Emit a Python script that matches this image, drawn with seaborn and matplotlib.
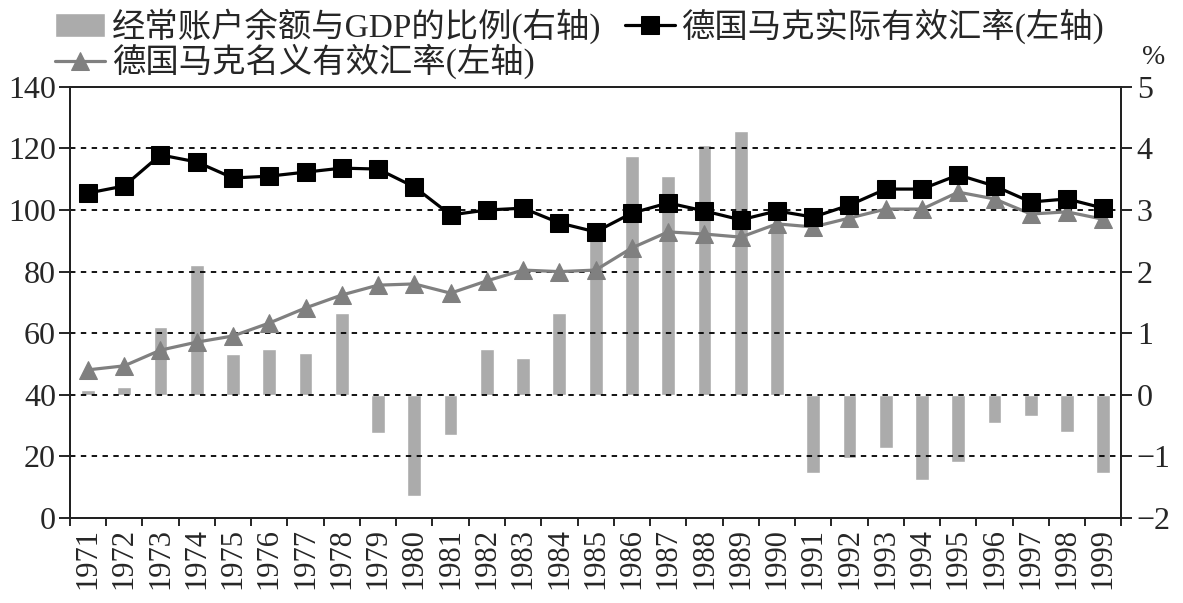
import numpy as np
import pandas as pd
import matplotlib
matplotlib.use("Agg")
import matplotlib.pyplot as plt
import seaborn as sns
from matplotlib.ticker import FixedLocator

years = [str(y) for y in range(1971, 2000)]
# 经常账户余额与GDP的比例 (%), 右轴
current_account = [0.07, 0.12, 1.1, 2.1, 0.67, 0.75, 0.68, 1.32, -0.62, -1.65,
                   -0.65, 0.75, 0.6, 1.32, 2.6, 3.87, 3.55, 4.05, 4.28, 2.75,
                   -1.27, -1.02, -0.87, -1.38, -1.09, -0.46, -0.35, -0.61, -1.27]
# 德国马克实际有效汇率, 左轴
real_rate = [105.5, 107.8, 117.9, 115.6, 110.4, 111.0, 112.3, 113.6, 113.3, 107.5,
             98.4, 100.0, 100.6, 95.8, 92.9, 99.0, 102.3, 99.7, 96.8, 99.7,
             97.7, 101.6, 106.8, 106.8, 111.4, 107.8, 102.6, 103.6, 100.6]
# 德国马克名义有效汇率, 左轴
nominal_rate = [48.1, 49.4, 54.5, 57.1, 59.1, 63.3, 68.2, 72.4, 75.6, 76.0,
                73.0, 77.0, 80.5, 80.0, 80.5, 87.7, 92.9, 92.2, 91.2, 95.5,
                94.5, 97.4, 100.3, 100.3, 105.8, 103.6, 98.7, 99.4, 97.0]

label_bar = "经常账户余额与GDP的比例(右轴)"
label_real = "德国马克实际有效汇率(左轴)"
label_nom = "德国马克名义有效汇率(左轴)"

df = pd.DataFrame({"year": years, "ca": current_account,
                   "real": real_rate, "nominal": nominal_rate})

sns.set_theme(style="white")
plt.rcParams["font.family"] = ["Liberation Serif", "Noto Sans CJK SC"]
plt.rcParams["axes.unicode_minus"] = True

fig = plt.figure(figsize=(11.83, 6.03), dpi=100)
ax = fig.add_axes([0.059, 0.141, 0.889, 0.715])
ax2 = ax.twinx()

# bars on right axis
sns.barplot(data=df, x="year", y="ca", color="#ababab", saturation=1,
            width=0.38, ax=ax2, label=label_bar)
ax2.set_ylim(-2, 5)
ax2.set_ylabel("")

# lines on left axis
sns.lineplot(data=df, x="year", y="nominal", color="#808080", marker="^",
             markersize=13, markeredgecolor="#808080", linewidth=2.3,
             ax=ax, label=label_nom)
sns.lineplot(data=df, x="year", y="real", color="black", marker="s",
             markersize=13, markeredgecolor="black", linewidth=2.3,
             ax=ax, label=label_real)
ax.set_ylim(0, 140)
ax.set_xlim(-0.5, len(years) - 0.5)
ax.set_xlabel("")
ax.set_ylabel("")
ax.set_zorder(ax2.get_zorder() + 1)
ax.patch.set_visible(False)

ax.set_yticks(range(0, 141, 20))
ax2.set_yticks(range(-2, 6))
for t in [20, 40, 60, 80, 100, 120]:
    ax.axhline(t, color="black", linestyle=(0, (3, 3)), linewidth=1.3, zorder=0.5)

ax.set_xticks(range(len(years)))
ax.set_xticklabels(years, rotation=90)
ax.xaxis.set_minor_locator(FixedLocator(np.arange(-0.5, len(years), 1)))
ax.tick_params(axis="x", which="major", length=0, labelsize=22, pad=7)
ax.tick_params(axis="x", which="minor", length=6, width=1.2, direction="out",
               bottom=True, color="black")
ax.tick_params(axis="y", length=8, width=1.2, direction="out", left=True,
               labelsize=23, color="black", pad=2)
ax2.tick_params(axis="y", length=8, width=1.2, direction="out", right=True,
                labelsize=23, color="black", pad=3)

for a in (ax, ax2):
    for s in a.spines.values():
        s.set_color("#222222")
        s.set_linewidth(1.4)
    a.grid(False)

fig.text(0.975, 0.905, "%", fontsize=20, ha="center", va="center")

h1, l1 = ax.get_legend_handles_labels()
h2, l2 = ax2.get_legend_handles_labels()
ax.get_legend().remove()
if ax2.get_legend() is not None:
    ax2.get_legend().remove()
handles = {**dict(zip(l1, h1)), **dict(zip(l2, h2))}
order = [label_bar, label_nom, label_real]
fig.legend([handles[k] for k in order], order, loc="upper center",
           bbox_to_anchor=(0.49, 1.025), ncol=2, frameon=False, fontsize=24,
           handlelength=1.5, handletextpad=0.2, columnspacing=0.7,
           labelspacing=0.0, borderpad=0.2)

fig.savefig("out.png", dpi=100, facecolor="white")
